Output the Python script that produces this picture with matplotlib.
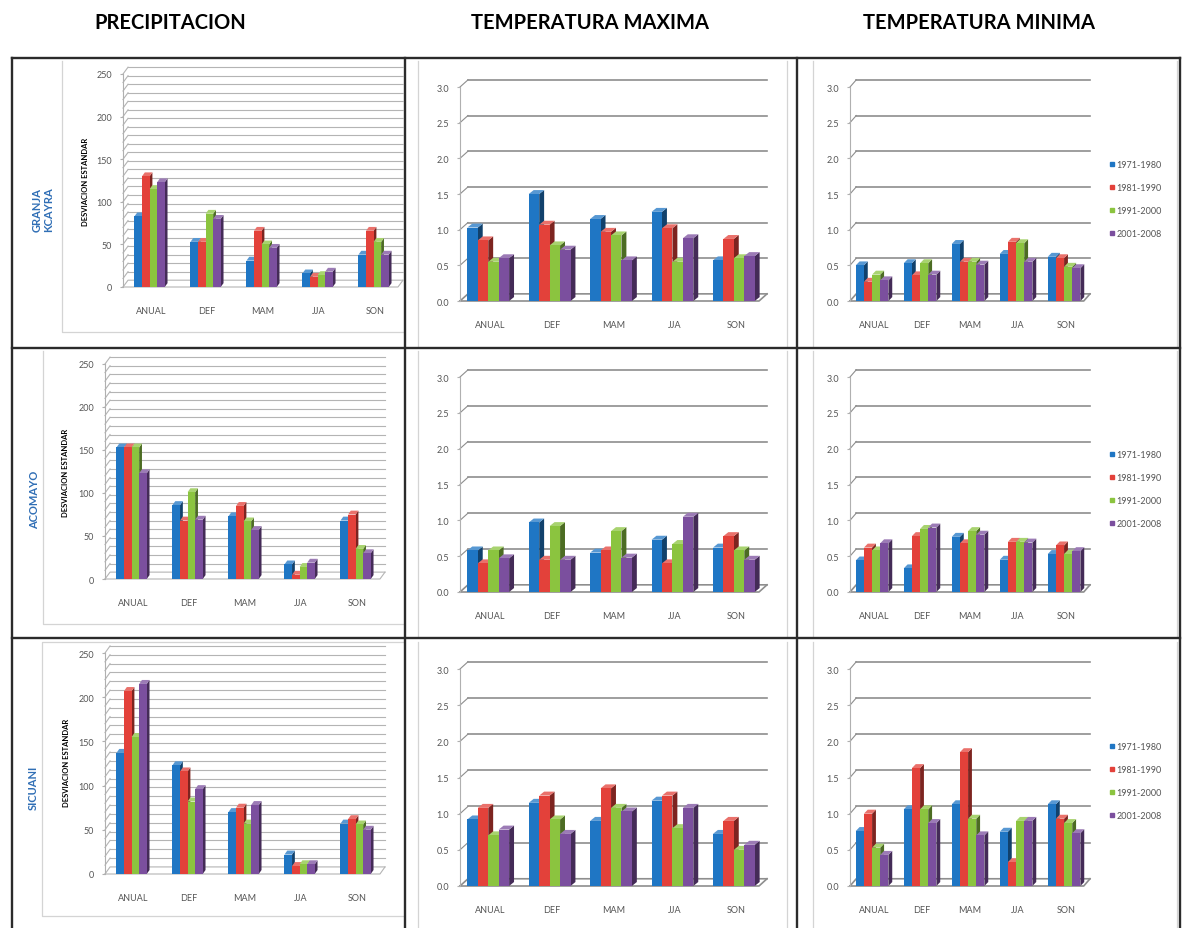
#! /usr/bin/env python3

import matplotlib.pyplot as plt
import numpy as np
from matplotlib.patches import Polygon
from matplotlib.lines import Line2D
from matplotlib.colors import to_rgb

plt.rcParams['font.family'] = ['Lato', 'DejaVu Sans']

W, H = 1183, 929

categories = ['ANUAL', 'DEF', 'MAM', 'JJA', 'SON']
periods = ['1971-1980', '1981-1990', '1991-2000', '2001-2008']
colors = ['#1f76c4', '#e3413a', '#8bc43f', '#7b4f9e']

headers = ['PRECIPITACION', 'TEMPERATURA MAXIMA', 'TEMPERATURA MINIMA']
stations = ['GRANJA\nKCAYRA', 'ACOMAYO', 'SICUANI']

# series order: 1971-1980, 1981-1990, 1991-2000, 2001-2008 ; each over ANUAL..SON
pp_kcayra = [[83, 53, 31, 16, 38],
             [130, 53, 66, 12, 66],
             [115, 86, 50, 14, 53],
             [123, 80, 46, 18, 38]]
tmax_kcayra = [[1.03, 1.50, 1.15, 1.25, 0.57],
               [0.85, 1.07, 0.97, 1.02, 0.87],
               [0.55, 0.78, 0.92, 0.55, 0.60],
               [0.60, 0.72, 0.57, 0.88, 0.63]]
tmin_kcayra = [[0.50, 0.53, 0.80, 0.66, 0.62],
               [0.27, 0.36, 0.55, 0.83, 0.60],
               [0.37, 0.53, 0.55, 0.81, 0.48],
               [0.29, 0.37, 0.51, 0.55, 0.46]]

pp_acomayo = [[153, 86, 73, 17, 68],
              [153, 68, 85, 5, 75],
              [153, 101, 67, 14, 35],
              [123, 69, 57, 19, 30]]
tmax_acomayo = [[0.58, 0.97, 0.55, 0.73, 0.62],
                [0.40, 0.45, 0.58, 0.40, 0.78],
                [0.58, 0.92, 0.85, 0.67, 0.58],
                [0.47, 0.45, 0.48, 1.05, 0.45]]
tmin_acomayo = [[0.44, 0.33, 0.77, 0.45, 0.53],
                [0.62, 0.78, 0.68, 0.70, 0.65],
                [0.58, 0.88, 0.85, 0.70, 0.53],
                [0.68, 0.90, 0.80, 0.69, 0.57]]

pp_sicuani = [[137, 123, 70, 22, 57],
              [207, 116, 75, 9, 62],
              [155, 82, 57, 11, 56],
              [215, 96, 78, 11, 50]]
tmax_sicuani = [[0.92, 1.15, 0.90, 1.18, 0.72],
                [1.08, 1.25, 1.35, 1.25, 0.90],
                [0.70, 0.92, 1.08, 0.80, 0.50],
                [0.78, 0.72, 1.03, 1.08, 0.57]]
tmin_sicuani = [[0.76, 1.06, 1.13, 0.75, 1.13],
                [1.00, 1.63, 1.85, 0.33, 0.93],
                [0.53, 1.06, 0.93, 0.90, 0.87],
                [0.43, 0.87, 0.70, 0.90, 0.73]]


def shade(c, f):
    r, g, b = to_rgb(c)
    if f < 1:
        return (r * f, g * f, b * f)
    return (r + (1 - r) * (f - 1), g + (1 - g) * (f - 1), b + (1 - b) * (f - 1))


def px_axes(fig, x0, y_top, x1, y_bot):
    return fig.add_axes([x0 / W, 1 - y_bot / H, (x1 - x0) / W, (y_bot - y_top) / H])


def panel(ax, data, ymax, grid_step, label_step, fmt, w, dx, dy, gdx, gdy, gc, glw):
    n = len(categories)
    x = np.arange(n)
    ax.set_facecolor('none')
    ax.set_xlim(-0.5, n - 0.5)
    ax.set_ylim(0, ymax)
    for s in ['top', 'right', 'bottom', 'left']:
        ax.spines[s].set_visible(False)

    # back wall gridlines with small 3d slant on the left wall
    for g in np.arange(grid_step, ymax + grid_step / 2, grid_step):
        ax.plot([-0.5, -0.5 + gdx], [g, g + gdy], color=gc, lw=0.8, clip_on=False, zorder=1)
        ax.plot([-0.5 + gdx, n - 0.5], [g + gdy, g + gdy], color=gc, lw=glw, clip_on=False, zorder=1)
    # floor
    ax.plot([-0.5, n - 0.5 - gdx, n - 0.5], [0, 0, gdy], color=gc, lw=glw, clip_on=False, zorder=1)
    ax.plot([-0.5, -0.5 + gdx, n - 0.5], [0, gdy, gdy], color=gc, lw=glw, clip_on=False, zorder=1)
    ax.plot([-0.5, -0.5], [0, ymax], color='#b0b0b0', lw=0.8, clip_on=False, zorder=1)

    start = -(4 * w + dx) / 2
    for i, (vals, col) in enumerate(zip(data, colors)):
        xs = x + start + i * w
        ax.bar(xs, vals, width=w, align='edge', color=col, lw=0, zorder=11 + 2 * i)
        for xi, v in zip(xs, vals):
            ax.add_patch(Polygon([(xi + w, 0), (xi + w + dx, dy), (xi + w + dx, v + dy), (xi + w, v)],
                                 closed=True, color=shade(col, 0.55), lw=0, zorder=10 + 2 * i))
            ax.add_patch(Polygon([(xi, v), (xi + dx, v + dy), (xi + w + dx, v + dy), (xi + w, v)],
                                 closed=True, color=shade(col, 1.25), lw=0, zorder=10 + 2 * i))

    ticks = np.arange(0, ymax + label_step / 2, label_step)
    ax.set_yticks(ticks)
    ax.set_yticklabels([fmt.format(t) for t in ticks], fontsize=6.5, color='#555555')
    ax.set_xticks(x)
    ax.set_xticklabels(categories, fontsize=6.5, color='#555555')
    ax.tick_params(axis='y', length=2, color='#b0b0b0', pad=6)
    ax.tick_params(axis='x', length=0, pad=14)


fig = plt.figure(figsize=(W / 100, H / 100), dpi=100)

# background layer for the table lines and chart frames
bg = fig.add_axes([0, 0, 1, 1])
bg.set_xlim(0, W)
bg.set_ylim(H, 0)
bg.axis('off')

frame = '#d4d4d4'
frame_lines = [
    ([62, 62, 403], [62, 333, 333]),
    ([418, 418], [62, 348]), ([787, 787], [62, 348]),
    ([813, 813], [62, 348]), ([1177, 1177], [62, 348]),
    ([43, 43, 403], [352, 625, 625]),
    ([418, 418], [352, 638]), ([787, 787], [352, 638]),
    ([813, 813], [352, 638]), ([1177, 1177], [352, 638]),
    ([403, 42, 42, 403], [643, 643, 917, 917]),
    ([418, 418], [643, 929]), ([787, 787], [643, 929]),
    ([813, 813], [643, 929]), ([1177, 1177], [643, 929]),
]
for xs, ys in frame_lines:
    bg.plot(xs, ys, color=frame, lw=0.9)

tl = '#2b2b2b'
for y in [59, 349, 639]:
    bg.plot([12, 1180], [y, y], color=tl, lw=1.7)
for xv in [12, 405, 797, 1180]:
    bg.plot([xv, xv], [59, 929], color=tl, lw=1.7)

for txt, xc in zip(headers, [170, 590, 979]):
    bg.text(xc, 23, txt, ha='center', va='center', fontsize=14.5, fontweight='bold', color='black')

# station labels and y-axis titles
for st, (xs, ys) in zip(stations, [(43, 210), (35, 500), (33, 788)]):
    bg.text(xs, ys, st, ha='center', va='center', rotation=90, fontsize=8,
            fontweight='bold', color='#2f6eb5', linespacing=1.1)
for xs, ys in [(86, 182), (66, 473), (67, 763)]:
    bg.text(xs, ys, 'DESVIACION ESTANDAR', ha='center', va='center', rotation=90,
            fontsize=5.5, fontweight='bold', color='black')

# axes positions (pixels): x0, y of top value, x1, y of zero
rows = [
    (pp_kcayra, tmax_kcayra, tmin_kcayra, (123, 75, 403, 288), (88, 302)),
    (pp_acomayo, tmax_acomayo, tmin_acomayo, (105, 365, 385, 580), (378, 593)),
    (pp_sicuani, tmax_sicuani, tmin_sicuani, (105, 654, 385, 875), (670, 887)),
]

legend_y = [170, 460, 752]

for r, (pp, tmax, tmin, ppos, tpos) in enumerate(rows):
    ax = px_axes(fig, *ppos)
    panel(ax, pp, 250, 10, 50, '{:.0f}', 0.135, 0.05, 4.5, 0.09, 8, '#b4b4b4', 0.8)

    ax = px_axes(fig, 460, tpos[0], 767, tpos[1])
    panel(ax, tmax, 3.0, 0.5, 0.5, '{:.1f}', 0.17, 0.08, 0.055, 0.13, 0.1, '#8e8e8e', 1.2)

    ax = px_axes(fig, 850, tpos[0], 1090, tpos[1])
    panel(ax, tmin, 3.0, 0.5, 0.5, '{:.1f}', 0.17, 0.08, 0.055, 0.13, 0.1, '#8e8e8e', 1.2)

    handles = [Line2D([], [], marker='s', ls='none', color=c, markersize=3.5) for c in colors]
    leg = fig.legend(handles, periods, loc='upper left',
                     bbox_to_anchor=(1108 / W, 1 - (legend_y[r] - 9) / H),
                     frameon=False, fontsize=6.5, labelspacing=1.55,
                     handletextpad=0.1, handlelength=0.8, borderpad=0, borderaxespad=0)
    for t in leg.get_texts():
        t.set_color('#555555')

fig.savefig('out.png', dpi=100)
